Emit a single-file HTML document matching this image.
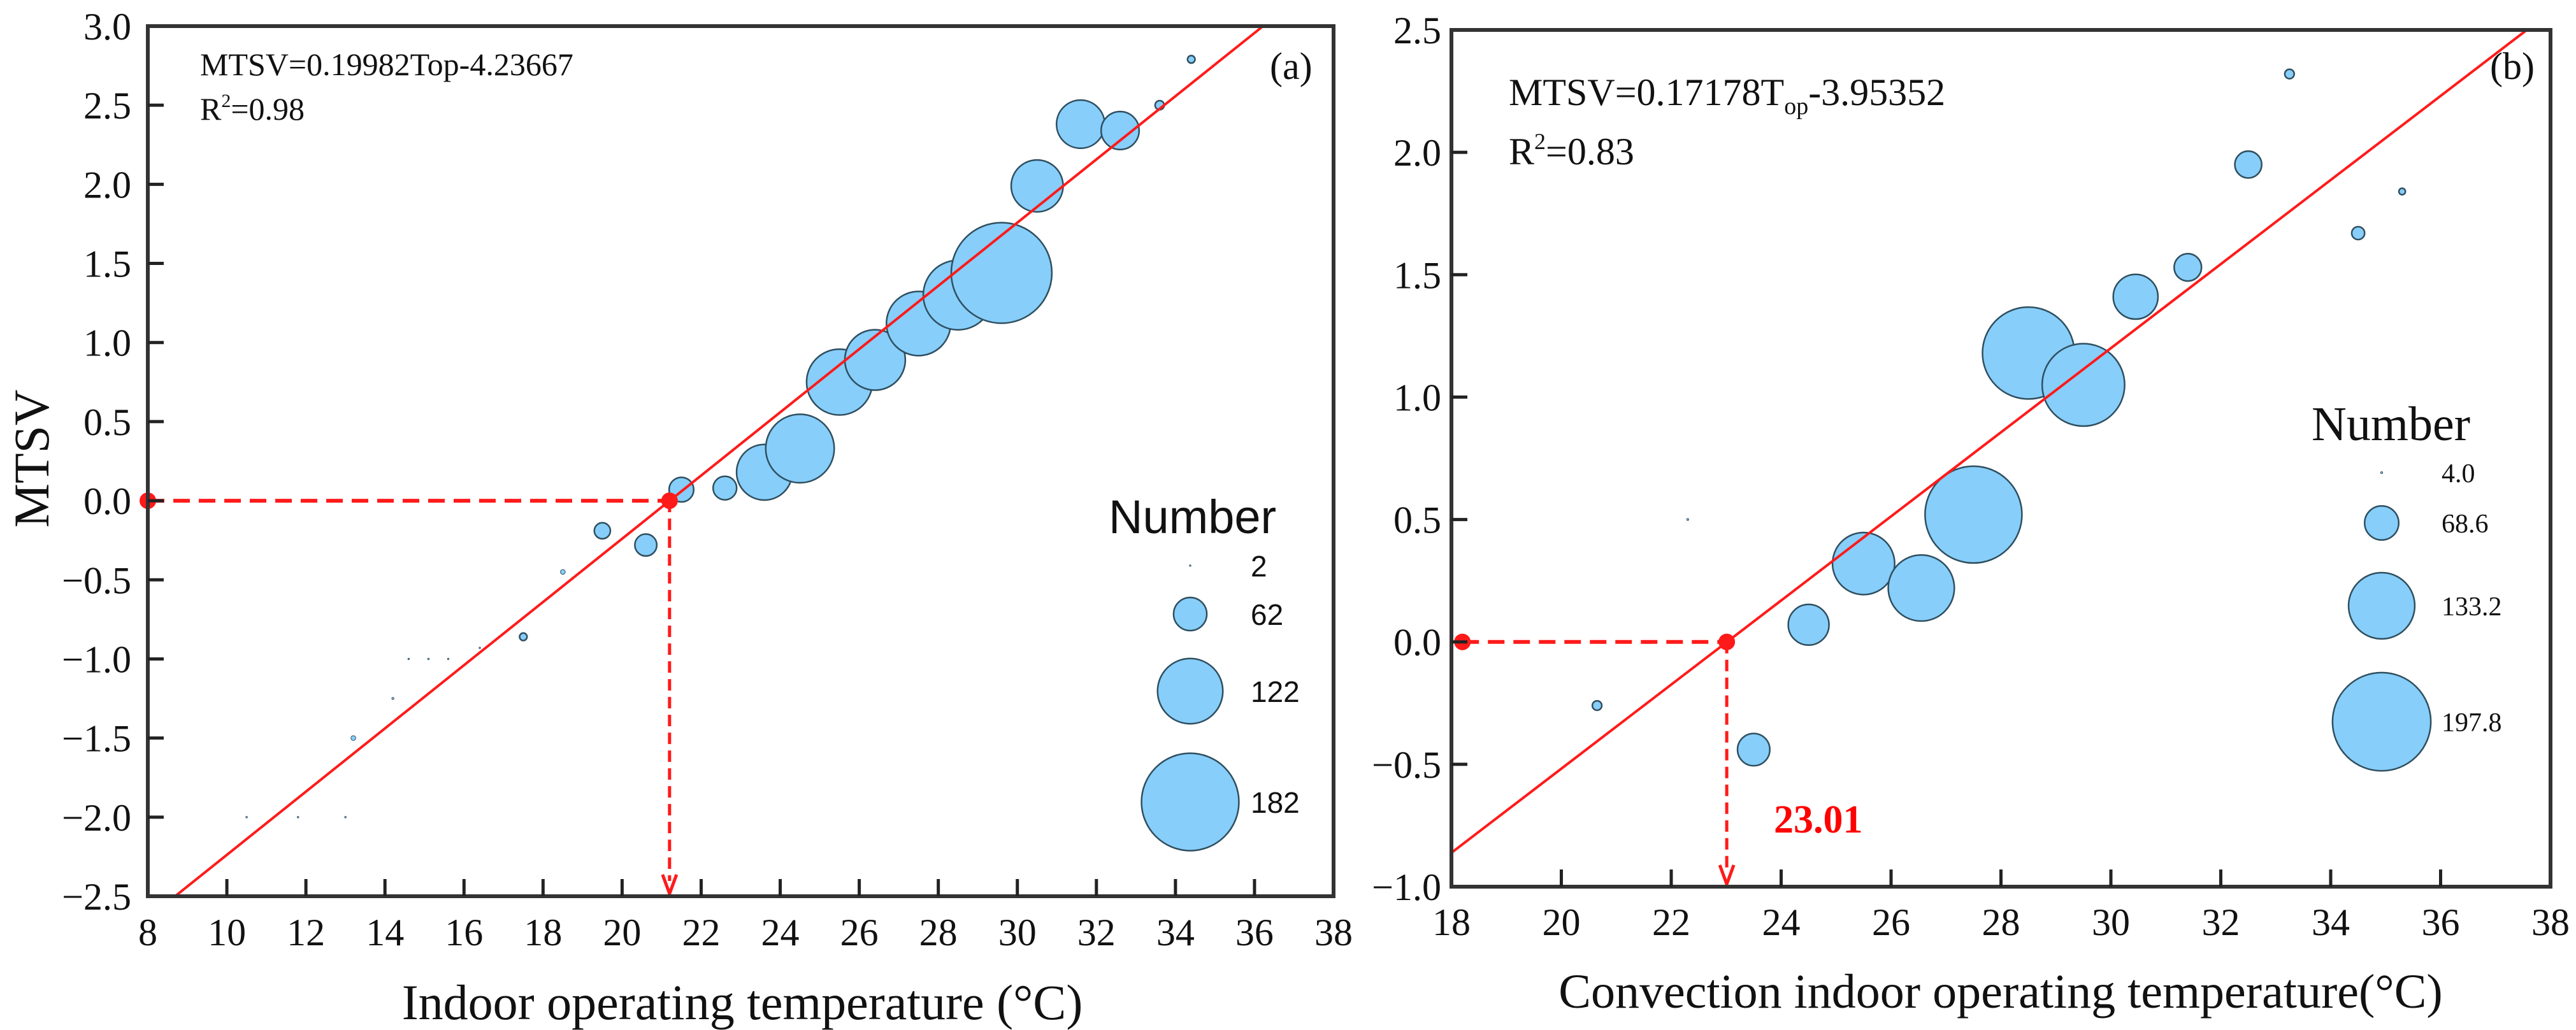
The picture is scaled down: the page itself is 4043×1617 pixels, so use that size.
<!DOCTYPE html>
<html><head><meta charset="utf-8"><style>
html,body{margin:0;padding:0;background:#fff}
svg{display:block}
text{font-family:"Liberation Serif",serif;fill:#111}
</style></head><body>
<svg id="chart" width="4043" height="1617" viewBox="0 0 4043 1617" xmlns="http://www.w3.org/2000/svg">
<g id="pa"></g>
<g id="pb"></g>
</svg>
<script>
// Panel A data
const aX=[10.5,11.8,13.0,13.2,14.2,14.6,15.1,15.6,16.4,17.5,18.5,19.5,20.6,21.5,22.6,23.6,24.5,25.5,26.4,27.5,28.5,29.6,30.5,31.6,32.6,33.6,34.4,35.2];
const aY=[-2.0,-2.0,-2.0,-1.5,-1.25,-1.0,-1.0,-1.0,-0.93,-0.86,-0.45,-0.19,-0.28,0.07,0.08,0.18,0.33,0.75,0.89,1.12,1.3,1.44,1.99,2.38,2.34,2.5,2.79,3.0];
const aN=[2,2,2,9,4,2,2,2,2,14,9,30,41,46,44,104,128,123,113,120,130,188,97,90,71,17,14,6];
const aXTicks=[8,10,12,14,16,18,20,22,24,26,28,30,32,34,36,38];
const aYTicks=[-2.5,-2.0,-1.5,-1.0,-0.5,0.0,0.5,1.0,1.5,2.0,2.5,3.0];
const aLegend=[2,62,122,182];
const aFit=[0.19982,-4.23667];
const aCross=21.2;
// Panel B data
const bX=[20.65,22.3,23.5,24.5,25.5,26.55,27.5,28.5,29.5,30.45,31.4,32.5,33.25,34.5,35.3];
const bY=[-0.26,0.5,-0.44,0.07,0.32,0.22,0.52,1.18,1.05,1.41,1.53,1.95,2.32,1.67,1.84];
const bN=[19,4,65,82,125,133,195,185,166,90,55,54,19,26,13];
const bXTicks=[18,20,22,24,26,28,30,32,34,36,38];
const bYTicks=[-1.0,-0.5,0.0,0.5,1.0,1.5,2.0,2.5];
const bLegend=["4.0","68.6","133.2","197.8"];
const bFit=[0.17178,-3.95352];
const bCross=23.01;

const NS="http://www.w3.org/2000/svg";
const SERIF='"Liberation Serif",serif';
function mk(parent,tag,attrs,txt){const e=document.createElementNS(NS,tag);for(const k in attrs)e.setAttribute(k,attrs[k]);if(txt!==undefined)e.textContent=txt;parent.appendChild(e);return e;}
function fmt(v){const s=v.toFixed(1);return v<0?"\u2212"+s.slice(1):s;}

function panel(g,cfg){
  const sx=v=>cfg.L+(v-cfg.x0)/(cfg.x1-cfg.x0)*(cfg.R-cfg.L);
  const sy=v=>cfg.B-(v-cfg.y0)/(cfg.y1-cfg.y0)*(cfg.B-cfg.T);
  const cp=mk(g,'clipPath',{id:cfg.id+'clip'});
  mk(cp,'rect',{x:cfg.L,y:cfg.T,width:cfg.R-cfg.L,height:cfg.B-cfg.T});
  const bg=mk(g,'g',{'clip-path':'url(#'+cfg.id+'clip)'});
  
  
  for(let i=0;i<cfg.xs.length;i++){
    const r=Math.max(1.2,cfg.k*cfg.ns[i]);
    const c=mk(bg,'circle',{cx:sx(cfg.xs[i]),cy:sy(cfg.ys[i]),r:r,fill:'#87cefa',stroke:'#2f4f5f','stroke-width':r>4?2.5:1});
    
    
  }
  const fx0=Math.max(cfg.x0,(cfg.y0-cfg.fit[1])/cfg.fit[0]);
  const fx1=Math.min(cfg.x1,(cfg.y1-cfg.fit[1])/cfg.fit[0]);
  const fl=mk(g,'line',{x1:sx(fx0),y1:sy(cfg.fit[0]*fx0+cfg.fit[1]),x2:sx(fx1),y2:sy(cfg.fit[0]*fx1+cfg.fit[1]),stroke:'#ff1a1a','stroke-width':4});
  
  
  const hx0=cfg.dashStart;
  const dh=mk(g,'line',{x1:sx(hx0),y1:sy(0),x2:sx(cfg.cross),y2:sy(0),stroke:'#ff1a1a','stroke-width':6,'stroke-dasharray':'26 14'});
  
  
  const dv=mk(g,'line',{x1:sx(cfg.cross),y1:sy(0),x2:sx(cfg.cross),y2:cfg.B-24,stroke:'#ff1a1a','stroke-width':5,'stroke-dasharray':'18 10'});
  
  
  const ah=mk(g,'path',{d:`M${sx(cfg.cross)-11},${cfg.B-34} L${sx(cfg.cross)},${cfg.B-4} L${sx(cfg.cross)+11},${cfg.B-34}`,fill:'none',stroke:'#ff1a1a','stroke-width':5});
  
  
  [hx0,cfg.cross].forEach(v=>{const d=mk(g,'circle',{cx:sx(v),cy:sy(0),r:13,fill:'#ff1a1a'});});
  const fr=mk(g,'rect',{x:cfg.L,y:cfg.T,width:cfg.R-cfg.L,height:cfg.B-cfg.T,fill:'none',stroke:'#333','stroke-width':6});
  
  
  cfg.xt.forEach(v=>{
    const X=sx(v);
    if(v>cfg.x0&&v<cfg.x1){const t=mk(g,'line',{x1:X,y1:cfg.B,x2:X,y2:cfg.B-27,stroke:'#222','stroke-width':5});}
    const l=mk(g,'text',{x:X,y:cfg.xLabY,'font-size':60,'text-anchor':'middle','font-family':SERIF},String(v));
    
    
  });
  cfg.yt.forEach(v=>{
    const Y=sy(v);
    if(v>cfg.y0&&v<cfg.y1){const t=mk(g,'line',{x1:cfg.L,y1:Y,x2:cfg.L+25,y2:Y,stroke:'#222','stroke-width':5});}
    const l=mk(g,'text',{x:cfg.yLabX,y:Y+21,'font-size':60,'text-anchor':'end','font-family':SERIF},fmt(v));
    
    
  });
  return {sx,sy};
}

const ga=document.getElementById('pa');
panel(ga,{id:'a',L:232,R:2093,T:41,B:1407,x0:8,x1:38,y0:-2.5,y1:3.0,xs:aX,ys:aY,ns:aN,k:0.42,fit:aFit,cross:aCross,dashStart:8,xt:aXTicks,yt:aYTicks,xLabY:1484,yLabX:206});
const gb=document.getElementById('pb');
panel(gb,{id:'b',L:2278,R:4003,T:47,B:1392,x0:18,x1:38,y0:-1.0,y1:2.5,xs:bX,ys:bY,ns:bN,k:0.39,fit:bFit,cross:bCross,dashStart:18.2,xt:bXTicks,yt:bYTicks,xLabY:1468,yLabX:2262});

let t;
t=mk(ga,'text',{x:314,y:118,'font-size':50},'MTSV=0.19982Top-4.23667');


t=mk(ga,'text',{x:314,y:188,'font-size':50});
t.innerHTML='R<tspan dy="-20" font-size="30">2</tspan><tspan dy="20">=0.98</tspan>';


t=mk(ga,'text',{x:1993,y:124,'font-size':60},'(a)');


t=mk(ga,'text',{x:0,y:0,'font-size':78,'text-anchor':'middle',transform:'translate(76,720) rotate(-90)'},'MTSV');


t=mk(ga,'text',{x:1165,y:1600,'font-size':78,'text-anchor':'middle'},'Indoor operating temperature (\u00b0C)');


t=mk(ga,'text',{x:1740,y:837,'font-size':74,'style':'font-family:"Liberation Sans",sans-serif'},'Number');


const aLegY=[888,964,1085,1259];
aLegend.forEach((n,i)=>{
  const r=Math.max(1.2,0.42*n);
  const c=mk(ga,'circle',{cx:1868,cy:aLegY[i],r:r,fill:'#87cefa',stroke:'#2f4f5f','stroke-width':r>4?2.5:1});
  
  
  const l=mk(ga,'text',{x:1963,y:aLegY[i]+17,'font-size':46,'style':'font-family:"Liberation Sans",sans-serif'},String(n));
  
  
});

t=mk(gb,'text',{x:2368,y:165,'font-size':60});
t.innerHTML='MTSV=0.17178T<tspan dy="14" font-size="38">op</tspan><tspan dy="-14">-3.95352</tspan>';


t=mk(gb,'text',{x:2368,y:258,'font-size':60});
t.innerHTML='R<tspan dy="-24" font-size="36">2</tspan><tspan dy="24">=0.83</tspan>';


t=mk(gb,'text',{x:3908,y:124,'font-size':60},'(b)');


t=mk(gb,'text',{x:2784,y:1307,'font-size':62,'font-weight':'bold','style':'fill:#ff0000'},'23.01');


t=mk(gb,'text',{x:3140,y:1582,'font-size':76,'text-anchor':'middle'},'Convection indoor operating temperature(\u00b0C)');


t=mk(gb,'text',{x:3628,y:691,'font-size':76},'Number');


const bLegY=[742,821,951,1133];
bLegend.forEach((n,i)=>{
  const r=Math.max(1.2,0.39*parseFloat(n));
  const c=mk(gb,'circle',{cx:3738,cy:bLegY[i],r:r,fill:'#87cefa',stroke:'#2f4f5f','stroke-width':r>4?2.5:1});
  
  
  const l=mk(gb,'text',{x:3832,y:bLegY[i]+15,'font-size':42},n);
  
  
});
</script>
</body></html>
